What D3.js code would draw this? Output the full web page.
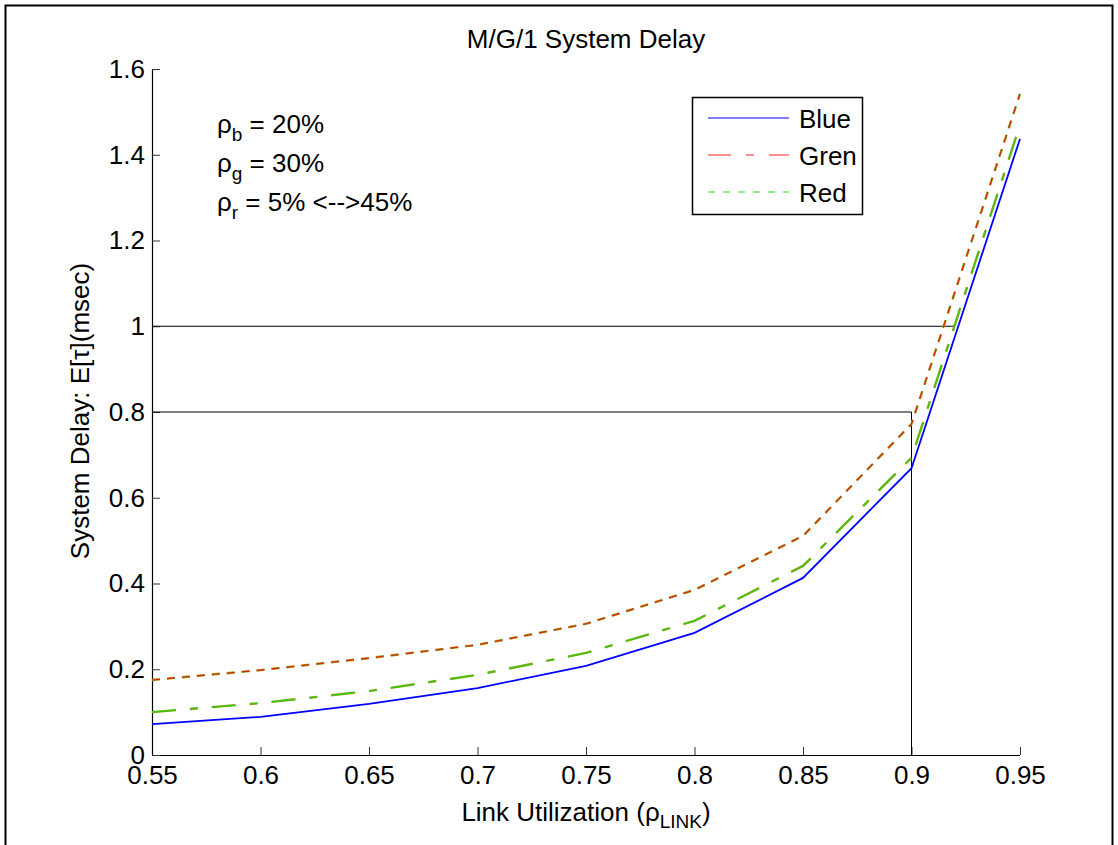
<!DOCTYPE html>
<html><head><meta charset="utf-8">
<script src="https://cdn.jsdelivr.net/npm/d3@7"></script>
<style>body{margin:0;background:#fff;} svg{display:block;font-family:"Liberation Sans",Arial,sans-serif;}</style>
</head><body>
<svg id="c" width="1118" height="845"></svg>
<script>
const utilization = [0.55, 0.6, 0.65, 0.7, 0.75, 0.8, 0.85, 0.9, 0.95];
const blueDelay  = [0.072, 0.089, 0.119, 0.156, 0.208, 0.285, 0.413, 0.669, 1.437];
const grenDelay  = [0.175, 0.198, 0.226, 0.257, 0.306, 0.385, 0.511, 0.772, 1.542];
const redDelay   = [0.100, 0.121, 0.149, 0.187, 0.238, 0.313, 0.441, 0.693, 1.470];
const xTicks = [0.55, 0.6, 0.65, 0.7, 0.75, 0.8, 0.85, 0.9, 0.95];
const yTicks = [0, 0.2, 0.4, 0.6, 0.8, 1, 1.2, 1.4, 1.6];
const legendNames = ["Blue", "Gren", "Red"];

const FS = 26, SUB = 19;
const svg = d3.select("#c");
const L = 152, R = 1020, T = 69, B = 755;
const x = d3.scaleLinear().domain([0.55, 0.95]).range([L, R]);
const y = d3.scaleLinear().domain([0, 1.6]).range([B, T]);

// figure border
svg.append("path").attr("d", "M5.5,850 V5.5 H1112.5 V850").attr("fill", "none").attr("stroke", "#000").attr("stroke-width", 2);

// title
svg.append("text").attr("x", 586).attr("y", 48).attr("text-anchor", "middle").attr("font-size", FS).text("M/G/1 System Delay");

// axes
const xAxis = d3.axisBottom(x).tickValues(xTicks).tickSize(-8).tickPadding(11).tickFormat(d => String(d));
const gx = svg.append("g").attr("transform", `translate(0,${B})`).call(xAxis);
const yAxis = d3.axisLeft(y).tickValues(yTicks).tickSize(-8).tickPadding(7).tickFormat(d => String(d));
const gy = svg.append("g").attr("transform", `translate(${L},0)`).call(yAxis);
[gx, gy].forEach(g => {
  g.select(".domain").attr("stroke", "#000").attr("stroke-width", 1.2).attr("d", g === gx ? `M${L},0.5H${R}` : `M0.5,${B}V${T}`);
  g.selectAll(".tick line").attr("stroke", "#333");
  g.selectAll(".tick text").attr("font-size", FS).attr("fill", "#000").attr("font-family", "Liberation Sans, Arial, sans-serif");
});

// reference lines
const ref = svg.append("g").attr("stroke", "#000").attr("stroke-width", 1).attr("fill", "none");
ref.append("line").attr("x1", L).attr("x2", x(0.92)).attr("y1", y(1)).attr("y2", y(1));
ref.append("line").attr("x1", L).attr("x2", x(0.9)).attr("y1", y(0.8)).attr("y2", y(0.8));
ref.append("line").attr("x1", x(0.9)).attr("x2", x(0.9)).attr("y1", y(0.8)).attr("y2", y(0));

const line = d3.line().x((d, i) => x(utilization[i])).y(d => y(d));

// upper curve: red short dashes with olive halo
svg.append("path").attr("d", line(grenDelay)).attr("fill", "none").attr("stroke", "#9a9a20").attr("stroke-width", 2.4).attr("stroke-dasharray", "8,7");
svg.append("path").attr("d", line(grenDelay)).attr("fill", "none").attr("stroke", "#e02000").attr("stroke-width", 1.1).attr("stroke-dasharray", "8,7");
// middle curve: green dash-dot with olive halo
svg.append("path").attr("d", line(redDelay)).attr("fill", "none").attr("stroke", "#8aa020").attr("stroke-width", 2.4).attr("stroke-dasharray", "24,14,8,14");
svg.append("path").attr("d", line(redDelay)).attr("fill", "none").attr("stroke", "#30d000").attr("stroke-width", 1.1).attr("stroke-dasharray", "24,14,8,14");
// blue solid
svg.append("path").attr("d", line(blueDelay)).attr("fill", "none").attr("stroke", "#0000ff").attr("stroke-width", 1.8);

// legend
const lg = svg.append("g");
lg.append("rect").attr("x", 692.5).attr("y", 97.5).attr("width", 170).attr("height", 117).attr("fill", "#fff").attr("stroke", "#000").attr("stroke-width", 1.5);
const legStyles = [
  {c: "#0000ff", d: null},
  {c: "#ff2020", d: "23,15,8,15"},
  {c: "#20e020", d: "7,8"}
];
legendNames.forEach((n, i) => {
  const yy = 118 + i * 37;
  lg.append("line").attr("x1", 708).attr("x2", 789).attr("y1", yy).attr("y2", yy).attr("stroke", legStyles[i].c).attr("stroke-width", 1.2).attr("stroke-dasharray", legStyles[i].d);
  lg.append("text").attr("x", 799).attr("y", yy + 10).attr("font-size", FS).text(n);
});

// annotations
const ann = [["b", "= 20%"], ["g", "= 30%"], ["r", "= 5% <-->45%"]];
ann.forEach((a, i) => {
  const t = svg.append("text").attr("x", 217).attr("y", 133 + i * 39).attr("font-size", FS);
  t.append("tspan").text("ρ");
  t.append("tspan").attr("font-size", SUB).attr("dy", 8).text(a[0]);
  t.append("tspan").attr("dy", -8).text(" " + a[1]);
});

// axis labels
const xl = svg.append("text").attr("x", 586).attr("y", 821).attr("text-anchor", "middle").attr("font-size", FS);
xl.append("tspan").text("Link Utilization (ρ");
xl.append("tspan").attr("font-size", SUB).attr("dy", 7).text("LINK");
xl.append("tspan").attr("dy", -7).text(")");

svg.append("text").attr("transform", "translate(89,411) rotate(-90)").attr("text-anchor", "middle").attr("font-size", FS).text("System Delay: E[τ](msec)");
</script>
</body></html>
